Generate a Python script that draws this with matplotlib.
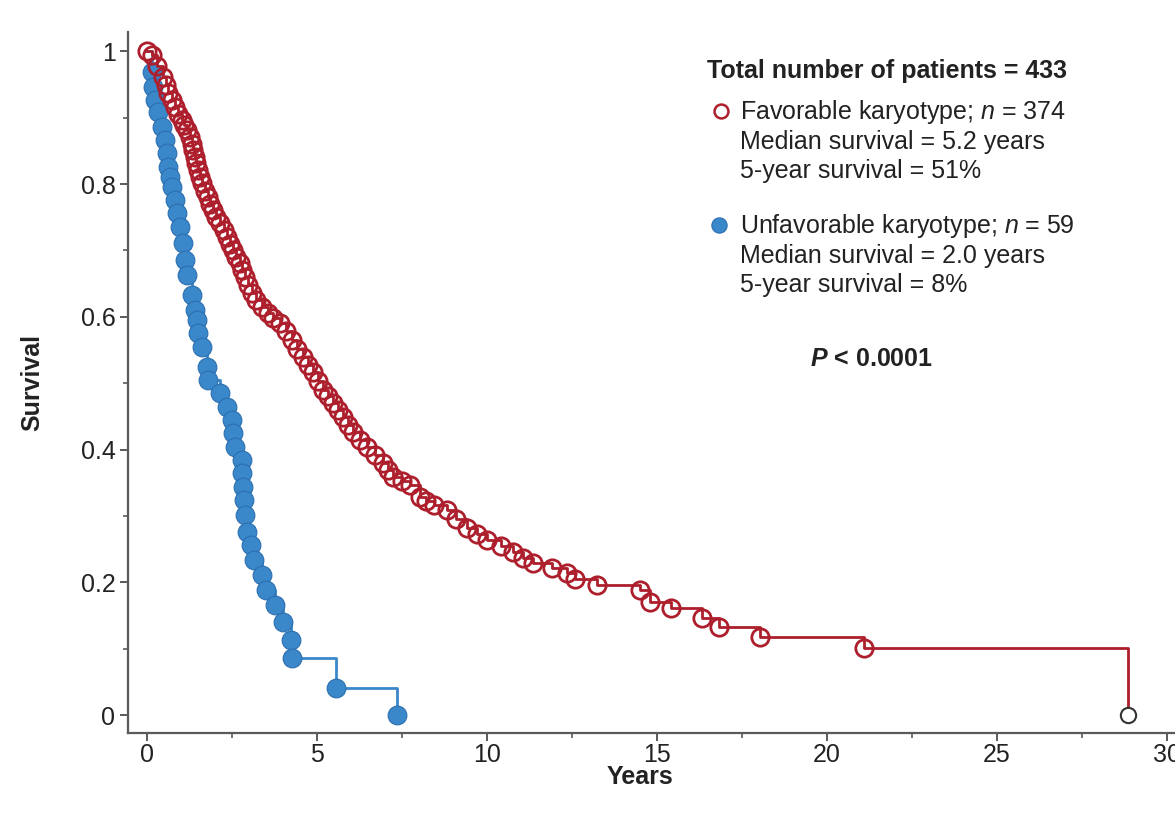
import matplotlib
matplotlib.use("Agg")
import matplotlib.pyplot as plt
from matplotlib.ticker import MultipleLocator

plt.rcParams['font.family'] = ['Liberation Sans', 'DejaVu Sans']
plt.rcParams['mathtext.fontset'] = 'custom'
plt.rcParams['mathtext.rm'] = 'Liberation Sans'
plt.rcParams['mathtext.it'] = 'Liberation Sans:italic'
plt.rcParams['mathtext.bf'] = 'Liberation Sans:bold'
plt.rcParams['mathtext.bfit'] = 'Liberation Sans:italic:bold'

# ---------------- data ----------------
fav_time = [0.0, 0.15, 0.30, 0.47, 0.55, 0.62, 0.72, 0.82, 0.92, 1.03, 1.10, 1.18,
            1.25, 1.32, 1.36, 1.41, 1.45, 1.50, 1.56, 1.62, 1.70, 1.79, 1.86, 1.94,
            2.04, 2.15, 2.25, 2.35, 2.44, 2.53, 2.63, 2.74, 2.80, 2.88, 2.98, 3.09,
            3.22, 3.38, 3.55, 3.72, 3.91, 4.08, 4.26, 4.42, 4.59, 4.73, 4.88, 5.03,
            5.18, 5.32, 5.47, 5.61, 5.76, 5.91, 6.06, 6.26, 6.47, 6.70, 6.94, 7.10,
            7.24, 7.50, 7.74, 8.03, 8.20, 8.45, 8.82, 9.10, 9.41, 9.70, 10.00, 10.40,
            10.76, 11.05, 11.35, 11.90, 12.35, 12.60, 13.24, 14.50, 14.79, 15.41,
            16.32, 16.82, 18.03, 21.09, 28.85]
fav_surv = [1.000, 0.994, 0.978, 0.961, 0.949, 0.937, 0.926, 0.916, 0.906, 0.896, 0.889, 0.881,
            0.871, 0.861, 0.851, 0.840, 0.831, 0.821, 0.811, 0.801, 0.790, 0.780, 0.770, 0.761,
            0.751, 0.741, 0.731, 0.720, 0.710, 0.700, 0.690, 0.681, 0.671, 0.660, 0.648, 0.636,
            0.625, 0.614, 0.606, 0.598, 0.590, 0.578, 0.565, 0.552, 0.539, 0.528, 0.517, 0.503,
            0.489, 0.480, 0.470, 0.460, 0.449, 0.437, 0.426, 0.415, 0.404, 0.392, 0.380, 0.369,
            0.358, 0.352, 0.346, 0.328, 0.322, 0.316, 0.309, 0.295, 0.282, 0.273, 0.264, 0.255,
            0.245, 0.237, 0.229, 0.222, 0.214, 0.205, 0.196, 0.188, 0.170, 0.161,
            0.146, 0.133, 0.117, 0.101, 0.000]

unf_time = [0.0, 0.15, 0.18, 0.24, 0.32, 0.44, 0.53, 0.59, 0.62, 0.68, 0.74, 0.82, 0.88,
            0.97, 1.06, 1.12, 1.18, 1.32, 1.41, 1.47, 1.50, 1.62, 1.76, 1.79, 2.15,
            2.35, 2.50, 2.53, 2.59, 2.79, 2.80, 2.82, 2.85, 2.88, 2.94, 3.06, 3.15,
            3.38, 3.50, 3.76, 4.00, 4.24, 4.26, 5.56, 7.35]
unf_surv = [1.000, 0.968, 0.946, 0.926, 0.908, 0.886, 0.866, 0.846, 0.825, 0.810, 0.795, 0.776, 0.756,
            0.735, 0.711, 0.685, 0.663, 0.633, 0.610, 0.595, 0.575, 0.554, 0.524, 0.505, 0.485,
            0.464, 0.444, 0.425, 0.404, 0.384, 0.364, 0.343, 0.324, 0.301, 0.276, 0.256, 0.233,
            0.211, 0.188, 0.166, 0.140, 0.113, 0.086, 0.041, 0.000]

x_ticks = [0, 5, 10, 15, 20, 25, 30]
y_ticks = [0, 0.2, 0.4, 0.6, 0.8, 1.0]
y_tick_labels = ["0", "0.2", "0.4", "0.6", "0.8", "1"]

RED = '#ad1f2c'
BLUE = '#3a87c9'
BLUE_EDGE = '#2c6fb0'
AX_COL = '#5a5a5a'
TXT = '#222222'

W, H = 1175, 833
fig = plt.figure(figsize=(W / 100, H / 100), dpi=100)
fig.patch.set_facecolor('white')
ax = fig.add_axes([128 / W, (H - 733) / H, (W - 128) / W, (733 - 32) / H])

# Unfavorable (blue, filled)
ax.step(unf_time, unf_surv, where='post', color=BLUE, lw=2.0, zorder=2)
ax.plot(unf_time[1:], unf_surv[1:], 'o', ms=13.5, mfc=BLUE, mec=BLUE_EDGE, mew=0.8, zorder=3)

# Favorable (red, open)
ax.step(fav_time, fav_surv, where='post', color=RED, lw=2.0, zorder=4)
ax.plot(fav_time[:-1], fav_surv[:-1], 'o', ms=12.5, mfc='none', mec=RED, mew=2.0, zorder=5)
ax.plot(fav_time[-1:], fav_surv[-1:], 'o', ms=11, mfc='white', mec='#333333', mew=1.5, zorder=5)

ax.set_xlim(-0.56, 30.24)
ax.set_ylim(-0.027, 1.029)
ax.set_xticks(x_ticks)
ax.set_xticklabels([str(v) for v in x_ticks])
ax.set_yticks(y_ticks)
ax.set_yticklabels(y_tick_labels)
ax.xaxis.set_minor_locator(MultipleLocator(2.5))
ax.yaxis.set_minor_locator(MultipleLocator(0.1))

for s in ['top', 'right']:
    ax.spines[s].set_visible(False)
for s in ['left', 'bottom']:
    ax.spines[s].set_color(AX_COL)
    ax.spines[s].set_linewidth(1.6)

ax.tick_params(which='major', length=5.5, width=1.4, color=AX_COL, labelsize=18,
               labelcolor=TXT)
ax.tick_params(which='minor', length=3.5, width=1.2, color=AX_COL)
ax.tick_params(axis='x', which='major', pad=1.5)
ax.tick_params(axis='y', which='major', pad=3.5)

ax.set_xlabel('Years', fontsize=18, fontweight='bold', color=TXT)
ax.set_ylabel('Survival', fontsize=18, fontweight='bold', color=TXT)
ax.xaxis.set_label_coords((640 - 128) / (W - 128), -0.046)
ax.yaxis.set_label_coords((44 - 128) / (W - 128), 0.5)
ax.patch.set_visible(False)


def ftext(x, y, s, **kw):
    fig.text(x / W, 1 - y / H, s, fontsize=18, color=TXT, va='baseline', ha='left', **kw)


ftext(707, 78, 'Total number of patients = 433', fontweight='bold')
ftext(740, 119, r'Favorable karyotype; $\mathit{n}$ = 374')
ftext(740, 149, 'Median survival = 5.2 years')
ftext(740, 178, '5-year survival = 51%')
ftext(740, 233, r'Unfavorable karyotype; $\mathit{n}$ = 59')
ftext(740, 263, 'Median survival = 2.0 years')
ftext(740, 292, '5-year survival = 8%')
ftext(810, 366, r'$\mathbfit{P}$ < 0.0001', fontweight='bold')

fig.lines.append(plt.Line2D([721 / W], [1 - 111 / H], transform=fig.transFigure, marker='o',
                            ms=10, mfc='white', mec=RED, mew=1.8, linestyle='none'))
fig.lines.append(plt.Line2D([719 / W], [1 - 225 / H], transform=fig.transFigure, marker='o',
                            ms=11, mfc=BLUE, mec=BLUE_EDGE, mew=0.8, linestyle='none'))

fig.savefig('out.png', dpi=100, facecolor='white')
